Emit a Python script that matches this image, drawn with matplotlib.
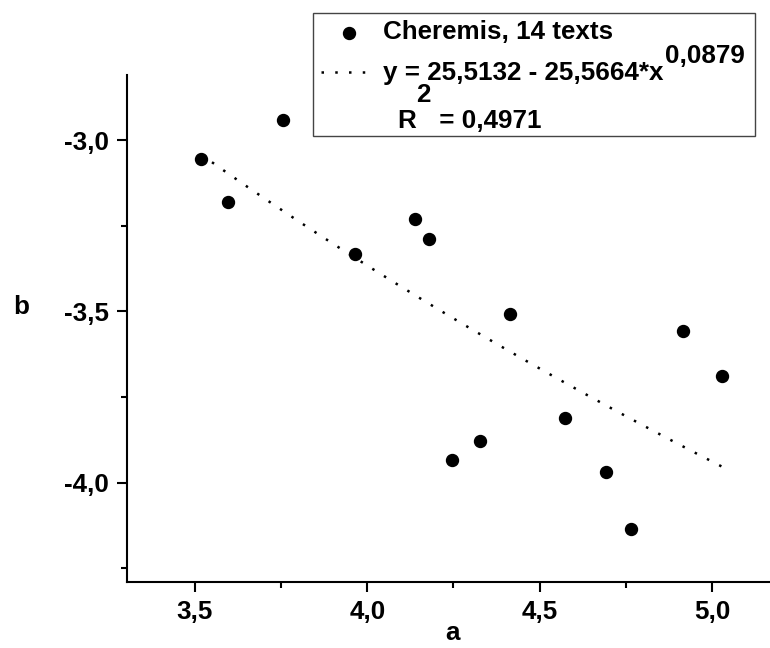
import numpy as np
import matplotlib
matplotlib.use("Agg")
import matplotlib.pyplot as plt
from matplotlib.lines import Line2D
from matplotlib.patches import Rectangle
from matplotlib.ticker import MultipleLocator, FuncFormatter

# Cheremis, 14 texts
a = [3.517, 3.596, 3.755, 3.964, 4.137, 4.179, 4.246, 4.326, 4.414, 4.573, 4.693, 4.764, 4.915, 5.028]
b = [-3.055, -3.182, -2.940, -3.333, -3.231, -3.290, -3.935, -3.877, -3.508, -3.811, -3.968, -4.134, -3.556, -3.689]

# fitted curve y = c - k*x^p
fit_c = 25.5132
fit_k = 25.5664
fit_p = 0.0879
r2 = "0,4971"

plt.rcParams['font.family'] = ['Liberation Sans', 'DejaVu Sans']
plt.rcParams['font.weight'] = 'bold'
FS = 18.7

W, H = 770, 648
fig = plt.figure(figsize=(W / 100, H / 100), dpi=100)
ax = fig.add_axes([127.3 / W, 66 / H, (W - 127.3) / W, (582 - 75) / H])

ax.plot(a, b, 'o', color='black', markersize=8.6, zorder=3)
xs = np.linspace(min(a), max(a), 200)
ys = fit_c - fit_k * xs ** fit_p
ax.plot(xs, ys, color='black', lw=1.8, linestyle=(0, (1, 4.5)))

ax.set_xlim(3.304, 5.168)
ax.set_ylim(-4.29, -2.81)
for s in ['top', 'right']:
    ax.spines[s].set_visible(False)
for s in ['left', 'bottom']:
    ax.spines[s].set_linewidth(1.5)

comma = FuncFormatter(lambda v, pos: f"{v:.1f}".replace('.', ','))
ax.xaxis.set_major_locator(MultipleLocator(0.5))
ax.xaxis.set_minor_locator(MultipleLocator(0.25))
ax.yaxis.set_major_locator(MultipleLocator(0.5))
ax.yaxis.set_minor_locator(MultipleLocator(0.25))
ax.xaxis.set_major_formatter(comma)
ax.yaxis.set_major_formatter(comma)
ax.tick_params(which='major', length=7, width=1.5, labelsize=FS, pad=6)
ax.tick_params(which='minor', length=4, width=1.5)

fig.text(452 / W, 1 - 640 / H, 'a', fontsize=FS, ha='center', va='baseline')
fig.text(21 / W, 1 - 314 / H, 'b', fontsize=FS, ha='center', va='baseline')

# legend box drawn in figure pixels
def fx(px):
    return px / W

def fy(py):
    return 1 - py / H

fig.patches.append(Rectangle((fx(313), fy(136)), fx(755) - fx(313), fy(13) - fy(136),
                             transform=fig.transFigure, fill=False, edgecolor='#444444', lw=1.0))
fig.lines.append(Line2D([fx(349)], [fy(33)], marker='o', color='black', markersize=8.6,
                        transform=fig.transFigure))
fig.lines.append(Line2D([fx(321), fx(368)], [fy(72), fy(72)], color='black', lw=1.8,
                        linestyle=(0, (1, 4.5)), transform=fig.transFigure))

renderer = fig.canvas.get_renderer()
fig.text(fx(383), fy(39), 'Cheremis, 14 texts', fontsize=FS, va='baseline')
t2 = fig.text(fx(383), fy(80), 'y = 25,5132 - 25,5664*x', fontsize=FS, va='baseline')
e2 = t2.get_window_extent(renderer)
fig.text(fx(e2.x1 + 1), fy(63), '0,0879', fontsize=FS, va='baseline')
t3 = fig.text(fx(397), fy(128), 'R', fontsize=FS, va='baseline')
e3 = t3.get_window_extent(renderer)
t4 = fig.text(fx(e3.x1), fy(102), '2', fontsize=FS, va='baseline')
e4 = t4.get_window_extent(renderer)
fig.text(fx(e4.x1 + 2), fy(128), ' = ' + r2, fontsize=FS, va='baseline')

fig.savefig('out.png', dpi=100)
